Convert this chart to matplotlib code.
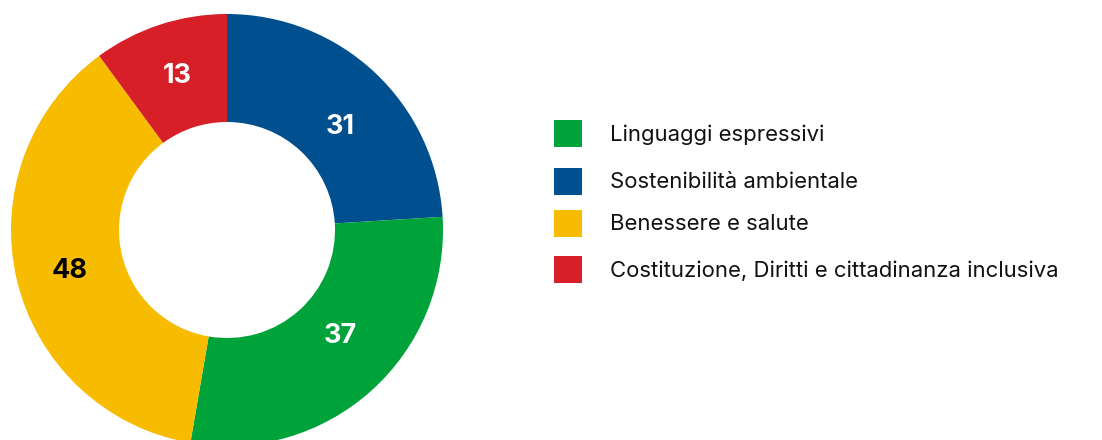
import matplotlib
matplotlib.use("Agg")
import matplotlib.pyplot as plt
import numpy as np
from matplotlib.patches import Rectangle

plt.rcParams['font.family'] = ['Inter', 'DejaVu Sans']

# Legend order
categories = ["Linguaggi espressivi", "Sostenibilità ambientale",
              "Benessere e salute", "Costituzione, Diritti e cittadinanza inclusiva"]
values = [37, 31, 48, 13]
colors = ["#00a23a", "#004f8e", "#f7bb00", "#d71f27"]
label_colors = ["white", "white", "black", "white"]
# drawing order (clockwise from 12 o'clock)
draw_order = [1, 0, 2, 3]

# label placement tweaks (radius, angle nudge in degrees), in legend order
label_radius = [0.708, 0.719, 0.751, 0.763]
label_dtheta = [5.7, -3.6, 0.2, -0.5]

W, H = 1102, 440
fig = plt.figure(figsize=(W / 100, H / 100), dpi=100)

cx, cy, R = 227, 440 - 230, 216
ax = fig.add_axes([(cx - R) / W, (cy - R) / H, 2 * R / W, 2 * R / H])
vals = [values[i] for i in draw_order]
cols = [colors[i] for i in draw_order]
wedges, _ = ax.pie(vals, colors=cols, startangle=90, counterclock=False,
                   radius=1, wedgeprops=dict(width=0.5, edgecolor='none'))
for w, i in zip(wedges, draw_order):
    mid = np.deg2rad((w.theta1 + w.theta2) / 2 + label_dtheta[i])
    r = label_radius[i]
    ax.text(r * np.cos(mid), r * np.sin(mid), str(values[i]), ha='center',
            va='center_baseline', fontsize=19.5, fontweight='bold',
            color=label_colors[i])
ax.set_xlim(-1, 1)
ax.set_ylim(-1, 1)
ax.set_aspect('equal')
ax.axis('off')

# legend drawn in figure pixel coordinates
lax = fig.add_axes([0, 0, 1, 1])
lax.set_xlim(0, W)
lax.set_ylim(H, 0)
lax.axis('off')
row_y = [133.5, 181.5, 223.5, 269.5]
for yc, name, c in zip(row_y, categories, colors):
    lax.add_patch(Rectangle((554, yc - 13.5), 28, 27, facecolor=c, edgecolor='none'))
    lax.text(610, yc + 1, name, ha='left', va='center', fontsize=15.9, color='#111111')

fig.savefig("out.png", dpi=100)
